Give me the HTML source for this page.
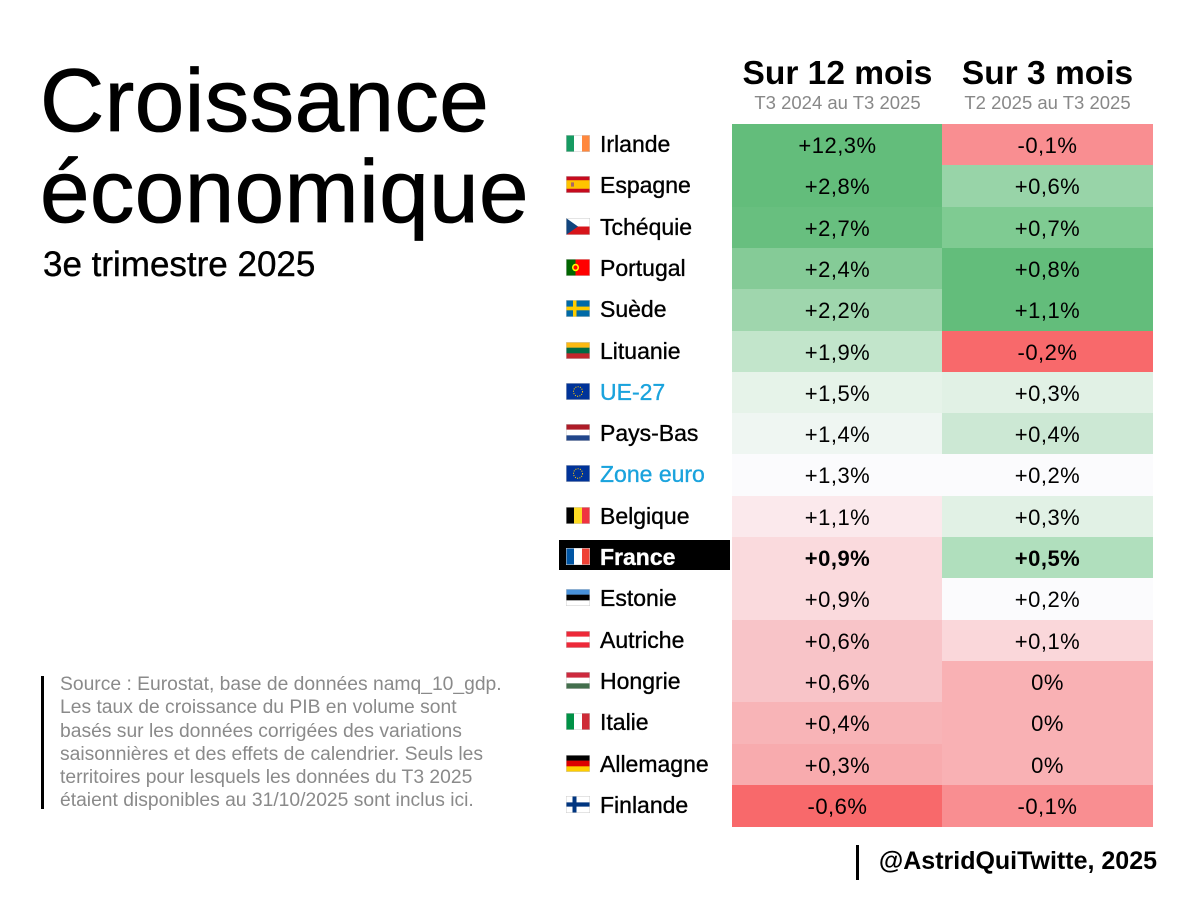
<!DOCTYPE html>
<html><head><meta charset="utf-8">
<style>
html,body{margin:0;padding:0;background:#fff;}
body{width:1200px;height:900px;position:relative;overflow:hidden;font-family:"Liberation Sans",Arial,sans-serif;color:#000;}
.abs{position:absolute;}
.title{left:40px;font-size:89px;line-height:1;letter-spacing:0.4px;white-space:nowrap;-webkit-text-stroke:0.8px #000;}
.hdr{font-size:33.5px;font-weight:bold;text-align:center;width:211px;white-space:nowrap;}
.sub{font-size:18.5px;color:#888;text-align:center;width:211px;white-space:nowrap;}
.cell{position:absolute;text-align:center;font-size:22px;letter-spacing:0.5px;}
.name{position:absolute;font-size:23px;white-space:nowrap;}
.src{left:60px;top:673px;font-size:19.3px;line-height:23.3px;color:#8a8a8a;white-space:nowrap;}
</style></head>
<body>
<div class="abs title" style="top:56px;">Croissance</div>
<div class="abs title" style="top:147px;">économique</div>
<div class="abs" style="left:43px;top:245px;font-size:35px;white-space:nowrap;-webkit-text-stroke:0.4px #000;">3e trimestre 2025</div>

<div class="abs hdr" style="left:732px;top:55px;">Sur 12 mois</div>
<div class="abs sub" style="left:732px;top:92px;">T3 2024 au T3 2025</div>
<div class="abs hdr" style="left:942px;top:55px;">Sur 3 mois</div>
<div class="abs sub" style="left:942px;top:92px;">T2 2025 au T3 2025</div>

<div id="table"></div>

<div class="abs" style="left:41px;top:676px;width:3px;height:133px;background:#000;"></div>
<div class="abs src">Source : Eurostat, base de données namq_10_gdp.<br>Les taux de croissance du PIB en volume sont<br>basés sur les données corrigées des variations<br>saisonnières et des effets de calendrier. Seuls les<br>territoires pour lesquels les données du T3 2025<br>étaient disponibles au 31/10/2025 sont inclus ici.</div>

<div class="abs" style="left:856px;top:845px;width:3px;height:35px;background:#000;"></div>
<div class="abs" style="right:43px;top:847px;font-size:25px;font-weight:bold;white-space:nowrap;">@AstridQuiTwitte, 2025</div>

<script>
const countries=["Irlande","Espagne","Tchéquie","Portugal","Suède","Lituanie","UE-27","Pays-Bas","Zone euro","Belgique","France","Estonie","Autriche","Hongrie","Italie","Allemagne","Finlande"];
const flags=["ie","es","cz","pt","se","lt","eu","nl","eu","be","fr","ee","at","hu","it","de","fi"];
const growth12=["+12,3%","+2,8%","+2,7%","+2,4%","+2,2%","+1,9%","+1,5%","+1,4%","+1,3%","+1,1%","+0,9%","+0,9%","+0,6%","+0,6%","+0,4%","+0,3%","-0,6%"];
const growth3=["-0,1%","+0,6%","+0,7%","+0,8%","+1,1%","-0,2%","+0,3%","+0,4%","+0,2%","+0,3%","+0,5%","+0,2%","+0,1%","0%","0%","0%","-0,1%"];
const colors12=["#63bd7b","#63bd7b","#68bf7f","#85cb97","#9fd6ad","#c2e5cb","#e6f3e9","#eff6f2","#fbfbfd","#fbe9ec","#fadadd","#fadadd","#f8c4c8","#f8c4c8","#f8b4b7","#f8abae","#f8696b"];
const colors3=["#f98e91","#98d4a8","#7fcb92","#63bd7b","#63bd7b","#f8696b","#e1f1e5","#cce8d4","#fbfbfd","#e1f1e5","#b0dfbd","#fbfbfd","#fad7da","#f9b1b4","#f9b1b4","#f9b1b4","#f98e91"];
const highlighted=["UE-27","Zone euro"];
const boldRow="France";

const T=124, RH=41.3, X1=732, X2=942, CW=211;
function rowY(i){return T+i*RH;}
function flagSVG(code){
  const s=(a)=>a.map((c,k)=>`<rect x="0" y="${k*16/a.length}" width="24" height="${16/a.length+0.2}" fill="${c}"/>`).join('');
  const v=(a)=>a.map((c,k)=>`<rect x="${k*8}" y="0" width="8.2" height="16" fill="${c}"/>`).join('');
  let b='';
  switch(code){
    case 'ie':b=v(['#169b62','#fff','#ff883e']);break;
    case 'es':b=`<rect width="24" height="16" fill="#c60b1e"/><rect y="4" width="24" height="8" fill="#ffc400"/><rect x="5" y="6" width="3" height="4" fill="#a66"/>`;break;
    case 'cz':b=`<rect width="24" height="8" fill="#fff"/><rect y="8" width="24" height="8" fill="#d7141a"/><polygon points="0,0 12,8 0,16" fill="#11457e"/>`;break;
    case 'pt':b=`<rect width="24" height="16" fill="#f00"/><rect width="9.5" height="16" fill="#060"/><circle cx="9.5" cy="8" r="3.5" fill="#ff0"/><circle cx="9.5" cy="8" r="2" fill="#f00"/>`;break;
    case 'se':b=`<rect width="24" height="16" fill="#006aa7"/><rect x="7" width="3.5" height="16" fill="#fecc00"/><rect y="6.2" width="24" height="3.5" fill="#fecc00"/>`;break;
    case 'lt':b=s(['#fdb913','#006a44','#c1272d']);break;
    case 'eu':b=`<rect width="24" height="16" fill="#003399"/><circle cx="12" cy="8" r="4.5" fill="none" stroke="#ffcc00" stroke-width="1" stroke-dasharray="1 1.3"/>`;break;
    case 'nl':b=s(['#ae1c28','#fff','#21468b']);break;
    case 'be':b=v(['#000','#fdda24','#ef3340']);break;
    case 'fr':b=v(['#0055a4','#fff','#ef4135']);break;
    case 'ee':b=s(['#4891d9','#000','#fff']);break;
    case 'at':b=s(['#ed2939','#fff','#ed2939']);break;
    case 'hu':b=s(['#cd2a3e','#fff','#436f4d']);break;
    case 'it':b=v(['#009246','#fff','#ce2b37']);break;
    case 'de':b=s(['#000','#dd0000','#ffce00']);break;
    case 'fi':b=`<rect width="24" height="16" fill="#fff"/><rect x="6.5" width="4" height="16" fill="#003580"/><rect y="6" width="24" height="4" fill="#003580"/>`;break;
  }
  return `<svg width="24" height="17" viewBox="0 0 24 16" preserveAspectRatio="none">${b}<rect x="0.25" y="0.25" width="23.5" height="15.5" fill="none" stroke="#ccc" stroke-width="0.5"/></svg>`;
}
const tbl=document.getElementById('table');
countries.forEach((c,i)=>{
  const y=rowY(i);
  const isBold=c===boldRow;
  if(isBold){
    const bg=document.createElement('div');
    
    
    bg.style.cssText=`position:absolute;left:559px;top:${y+3}px;width:171px;height:30px;background:#000;`;
    tbl.appendChild(bg);
  }
  const f=document.createElement('div');
  
  
  f.style.cssText=`position:absolute;left:566px;top:${y+11}px;width:24px;height:17px;line-height:0;`;
  f.innerHTML=flagSVG(flags[i]);
  tbl.appendChild(f);
  const n=document.createElement('div');
  n.className='name';
  
  
  n.textContent=c;
  let col='#000';
  if(highlighted.includes(c)) col='#1aa3dd';
  if(isBold) col='#fff';
  n.style.cssText+=`left:600px;top:${y+7}px;color:${col};-webkit-text-stroke:0.35px ${col};`+(isBold?'font-weight:bold;':'');
  tbl.appendChild(n);
  [[X1,growth12[i],colors12[i],'cell-12m'],[X2,growth3[i],colors3[i],'cell-3m']].forEach(([x,t,bgc,nm])=>{
    const d=document.createElement('div');
    d.className='cell';
    
    
    d.style.cssText+=`left:${x}px;top:${y}px;width:${CW}px;height:${RH+0.5}px;line-height:${RH+2}px;background:${bgc};`+(isBold?'font-weight:bold;':'');
    d.textContent=t;
    tbl.appendChild(d);
  });
});
</script>
</body></html>
